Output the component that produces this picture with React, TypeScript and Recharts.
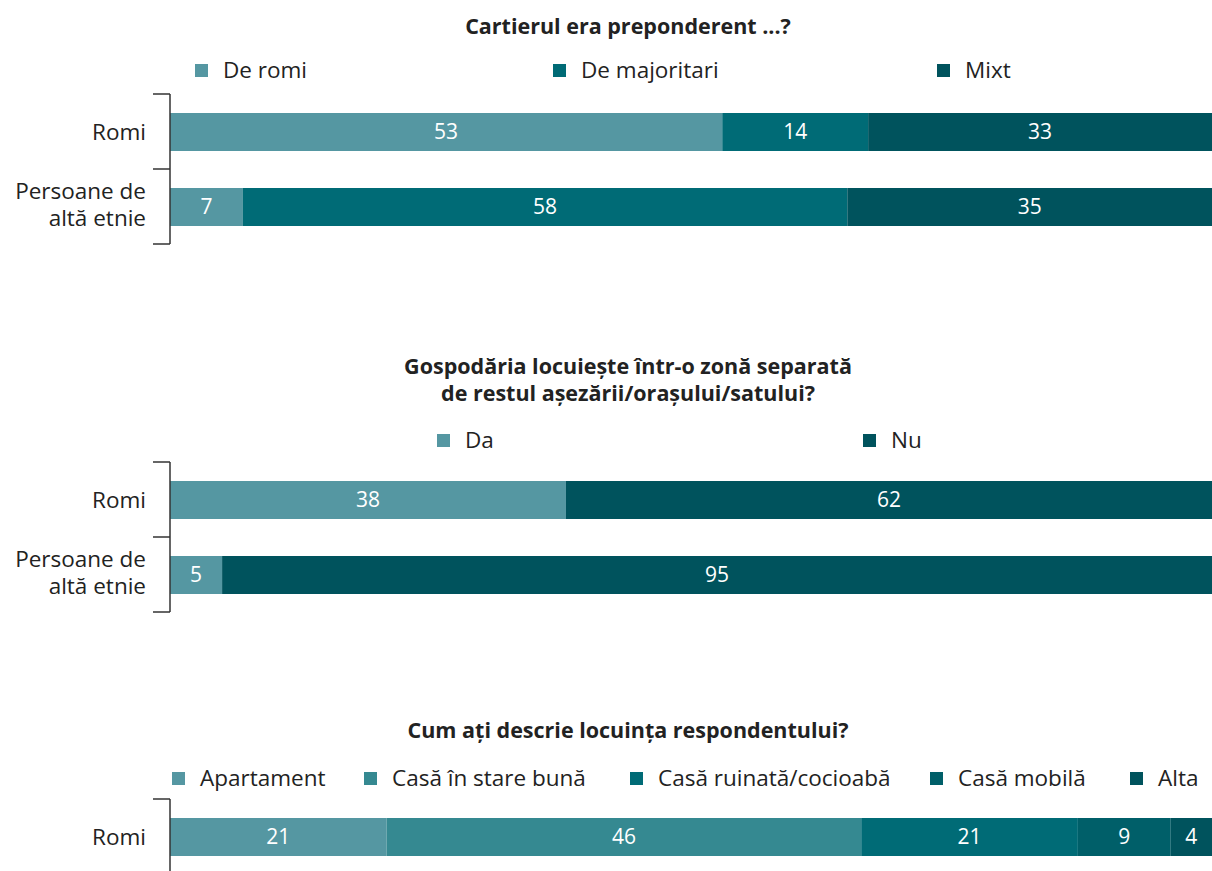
import React from "react";
import { BarChart, Bar, XAxis, YAxis, LabelList } from "recharts";

// ---------- Data ----------
const groups = ["Romi", "Persoane de altă etnie"];

// Panel 1: Cartierul era preponderent ...?
const p1Series = ["De romi", "De majoritari", "Mixt"];
const p1DeRomi = [53, 7];
const p1DeMajoritari = [14, 58];
const p1Mixt = [33, 35];

// Panel 2: Gospodăria locuiește într-o zonă separată ...
const p2Series = ["Da", "Nu"];
const p2Da = [38, 5];
const p2Nu = [62, 95];

// Panel 3: Cum ați descrie locuința respondentului?
const p3Groups = ["Romi"];
const p3Series = ["Apartament", "Casă în stare bună", "Casă ruinată/cocioabă", "Casă mobilă", "Alta"];
const p3Apartament = [21];
const p3StareBuna = [46];
const p3Ruinata = [21];
const p3Mobila = [9];
const p3Alta = [4];

// ---------- Styles ----------
const FONT = "'Open Sans', sans-serif";
const TEXT = "#222222";
const C_LIGHT = "#5597A2";
const C_MID2 = "#358991";
const C_MID = "#006B76";
const C_DARK2 = "#005F69";
const C_DARK = "#00535D";

const BAND = 75;
const AXIS_X = 170;

function buildRows(cats: string[], keys: string[], cols: number[][]) {
  return cats.map((c, i) => {
    const row: Record<string, any> = { name: c };
    keys.forEach((k, j) => (row[k] = cols[j][i]));
    return row;
  });
}

const data1 = buildRows(groups, p1Series, [p1DeRomi, p1DeMajoritari, p1Mixt]);
const data2 = buildRows(groups, p2Series, [p2Da, p2Nu]);
const data3 = buildRows(p3Groups, p3Series, [p3Apartament, p3StareBuna, p3Ruinata, p3Mobila, p3Alta]);

const labelSplit: Record<string, string[]> = {
  Romi: ["Romi"],
  "Persoane de altă etnie": ["Persoane de", "altă etnie"],
};

function makeTick(count: number) {
  return (props: any) => {
    const { y, payload, index } = props;
    const lines = labelSplit[payload.value] || [payload.value];
    const lh = 27;
    const top = y - ((lines.length - 1) * lh) / 2 - (lines.length > 1 ? 2 : 0);
    return (
      <g>
        <line x1={AXIS_X - 17} x2={AXIS_X} y1={y - BAND / 2} y2={y - BAND / 2} stroke="#333" strokeWidth={1.5} />
        {index === count - 1 && (
          <line x1={AXIS_X - 17} x2={AXIS_X} y1={y + BAND / 2} y2={y + BAND / 2} stroke="#333" strokeWidth={1.5} />
        )}
        <text textAnchor="end" fill={TEXT} fontFamily={FONT} fontSize={22.5}>
          {lines.map((l, i) => (
            <tspan key={i} x={146} y={top + i * lh} dy="0.36em">
              {l}
            </tspan>
          ))}
        </text>
      </g>
    );
  };
}

function Title({ lines, top }: { lines: string[]; top: number }) {
  return (
    <div
      style={{
        position: "absolute",
        top,
        left: 22,
        width: 1212,
        textAlign: "center",
        fontFamily: FONT,
        fontWeight: 700,
        fontSize: 21.5,
        lineHeight: "27px",
        color: TEXT,
      }}
    >
      {lines.map((l, i) => (
        <div key={i}>{l}</div>
      ))}
    </div>
  );
}

function LegendRow({
  items,
  colors,
  top,
  left,
  widths,
}: {
  items: string[];
  colors: string[];
  top: number;
  left: number;
  widths: number[];
}) {
  return (
    <div
      style={{
        position: "absolute",
        top,
        left,
        display: "flex",
        alignItems: "center",
        fontFamily: FONT,
        fontSize: 22.5,
        lineHeight: "28px",
        color: TEXT,
        whiteSpace: "nowrap",
      }}
    >
      {items.map((it, i) => (
        <div key={i} style={{ display: "flex", alignItems: "center", width: widths[i] }}>
          <span style={{ display: "inline-block", width: 13, height: 13, background: colors[i], marginRight: 15 }} />
          <span>{it}</span>
        </div>
      ))}
    </div>
  );
}

function Panel({
  data,
  keys,
  colors,
  height,
  plotTop,
  count,
}: {
  data: any[];
  keys: string[];
  colors: string[];
  height: number;
  plotTop: number;
  count: number;
}) {
  return (
    <div style={{ position: "absolute", top: 0, left: 0 }}>
      <BarChart
        width={1212}
        height={height}
        data={data}
        layout="vertical"
        margin={{ top: plotTop, right: 0, bottom: height - plotTop - count * BAND, left: 0 }}
        barSize={38}
      >
        <XAxis type="number" domain={[0, 100]} hide />
        <YAxis
          type="category"
          dataKey="name"
          width={AXIS_X}
          axisLine={{ stroke: "#333", strokeWidth: 1.5 }}
          tickLine={false}
          tick={makeTick(count)}
          interval={0}
        />
        {keys.map((k, i) => (
          <Bar key={k} dataKey={k} stackId="a" fill={colors[i]} isAnimationActive={false}>
            <LabelList dataKey={k} position="center" fill="#ffffff" fontFamily={FONT} fontSize={21} />
          </Bar>
        ))}
      </BarChart>
    </div>
  );
}

export default function App() {
  return (
    <div
      style={{
        position: "absolute",
        top: 0,
        left: 0,
        width: 1212,
        height: 871,
        overflow: "hidden",
        background: "#fff",
      }}
    >
      <Panel data={data1} keys={p1Series} colors={[C_LIGHT, C_MID, C_DARK]} height={260} plotTop={94} count={2} />
      <Title lines={["Cartierul era preponderent ...?"]} top={12} />
      <LegendRow items={p1Series} colors={[C_LIGHT, C_MID, C_DARK]} top={56} left={195} widths={[358, 384, 200]} />

      <Panel data={data2} keys={p2Series} colors={[C_LIGHT, C_DARK]} height={630} plotTop={462} count={2} />
      <Title lines={["Gospodăria locuiește într-o zonă separată", "de restul așezării/orașului/satului?"]} top={352} />
      <LegendRow items={p2Series} colors={[C_LIGHT, C_DARK]} top={426} left={437} widths={[426, 200]} />

      <Panel
        data={data3}
        keys={p3Series}
        colors={[C_LIGHT, C_MID2, C_MID, C_DARK2, C_DARK]}
        height={900}
        plotTop={799}
        count={1}
      />
      <Title lines={["Cum ați descrie locuința respondentului?"]} top={716} />
      <LegendRow
        items={p3Series}
        colors={[C_LIGHT, C_MID2, C_MID, C_DARK2, C_DARK]}
        top={764}
        left={172}
        widths={[192, 266, 300, 200, 80]}
      />
    </div>
  );
}
